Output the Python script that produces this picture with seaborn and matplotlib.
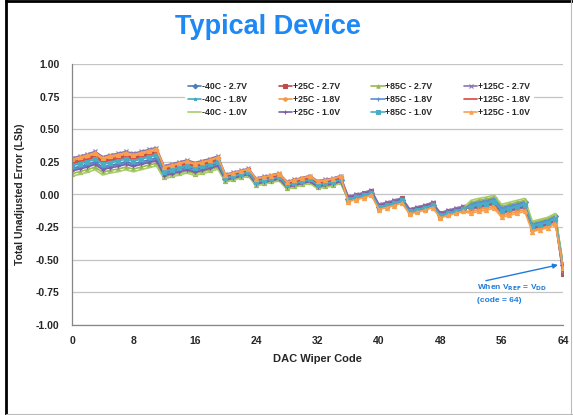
import numpy as np
import matplotlib
matplotlib.use("Agg")
import matplotlib.pyplot as plt
import seaborn as sns
from matplotlib.lines import Line2D

# DAC wiper codes
codes = list(range(65))

# Total unadjusted error (LSb)
m40_27 = [0.20, 0.215, 0.23, 0.25, 0.21, 0.225, 0.235, 0.25, 0.235, 0.25, 0.265, 0.28,
          0.165, 0.18, 0.195, 0.21, 0.19, 0.205, 0.22, 0.24,
          0.12, 0.135, 0.15, 0.165, 0.09, 0.105, 0.115, 0.13, 0.065, 0.08, 0.095, 0.11, 0.07, 0.08, 0.09, 0.11,
          -0.035, -0.02, -0.005, 0.015, -0.095, -0.08, -0.065, -0.045, -0.13, -0.115, -0.10, -0.08, -0.16, -0.14, -0.125, -0.11,
          -0.07, -0.055, -0.045, -0.03, -0.10, -0.085, -0.07, -0.055,
          -0.225, -0.21, -0.195, -0.165, -0.54]
p25_27 = [0.25, 0.265, 0.28, 0.30, 0.26, 0.275, 0.285, 0.30, 0.285, 0.30, 0.315, 0.33,
          0.20, 0.215, 0.23, 0.245, 0.225, 0.24, 0.255, 0.275,
          0.14, 0.155, 0.17, 0.185, 0.11, 0.125, 0.135, 0.15, 0.085, 0.10, 0.115, 0.13, 0.09, 0.10, 0.11, 0.13,
          -0.02, -0.005, 0.01, 0.03, -0.08, -0.065, -0.05, -0.03, -0.115, -0.10, -0.085, -0.065, -0.145, -0.125, -0.11, -0.095,
          -0.11, -0.095, -0.085, -0.07, -0.14, -0.125, -0.11, -0.095,
          -0.26, -0.245, -0.23, -0.20, -0.61]
p85_27 = [0.16, 0.175, 0.19, 0.21, 0.17, 0.185, 0.195, 0.21, 0.195, 0.21, 0.225, 0.24,
          0.135, 0.15, 0.165, 0.18, 0.16, 0.175, 0.19, 0.21,
          0.105, 0.12, 0.135, 0.15, 0.075, 0.09, 0.10, 0.115, 0.05, 0.065, 0.08, 0.095, 0.055, 0.065, 0.075, 0.095,
          -0.045, -0.03, -0.015, 0.005, -0.105, -0.09, -0.075, -0.055, -0.14, -0.125, -0.11, -0.09, -0.17, -0.15, -0.135, -0.12,
          -0.06, -0.045, -0.035, -0.02, -0.09, -0.075, -0.06, -0.045,
          -0.215, -0.20, -0.185, -0.155, -0.53]
p125_27 = [0.28, 0.295, 0.31, 0.33, 0.29, 0.305, 0.315, 0.33, 0.315, 0.33, 0.345, 0.36,
           0.22, 0.235, 0.25, 0.265, 0.245, 0.26, 0.275, 0.295,
           0.155, 0.17, 0.185, 0.20, 0.125, 0.14, 0.15, 0.165, 0.10, 0.115, 0.13, 0.145, 0.105, 0.115, 0.125, 0.145,
           -0.015, 0.0, 0.015, 0.035, -0.075, -0.06, -0.045, -0.025, -0.11, -0.095, -0.08, -0.06, -0.14, -0.12, -0.105, -0.09,
           -0.115, -0.10, -0.09, -0.075, -0.145, -0.13, -0.115, -0.10,
           -0.265, -0.25, -0.235, -0.205, -0.60]
m40_18 = [0.23, 0.245, 0.26, 0.28, 0.24, 0.255, 0.265, 0.28, 0.265, 0.28, 0.295, 0.31,
          0.18, 0.195, 0.21, 0.225, 0.205, 0.22, 0.235, 0.255,
          0.13, 0.145, 0.16, 0.175, 0.10, 0.115, 0.125, 0.14, 0.075, 0.09, 0.105, 0.12, 0.08, 0.09, 0.10, 0.12,
          -0.03, -0.015, 0.0, 0.02, -0.09, -0.075, -0.06, -0.04, -0.125, -0.11, -0.095, -0.075, -0.155, -0.135, -0.12, -0.105,
          -0.085, -0.07, -0.06, -0.045, -0.115, -0.10, -0.085, -0.07,
          -0.235, -0.22, -0.205, -0.175, -0.55]
p25_18 = [0.26, 0.275, 0.29, 0.31, 0.27, 0.285, 0.295, 0.31, 0.295, 0.31, 0.325, 0.34,
          0.205, 0.22, 0.235, 0.25, 0.23, 0.245, 0.26, 0.28,
          0.145, 0.16, 0.175, 0.19, 0.115, 0.13, 0.14, 0.155, 0.09, 0.105, 0.12, 0.135, 0.095, 0.105, 0.115, 0.135,
          -0.05, -0.035, -0.02, 0.0, -0.11, -0.095, -0.08, -0.06, -0.145, -0.13, -0.115, -0.095, -0.175, -0.155, -0.14, -0.125,
          -0.13, -0.115, -0.105, -0.09, -0.16, -0.145, -0.13, -0.115,
          -0.275, -0.26, -0.245, -0.215, -0.58]
p85_18 = [0.19, 0.205, 0.22, 0.24, 0.20, 0.215, 0.225, 0.24, 0.225, 0.24, 0.255, 0.27,
          0.155, 0.17, 0.185, 0.20, 0.18, 0.195, 0.21, 0.23,
          0.115, 0.13, 0.145, 0.16, 0.085, 0.10, 0.11, 0.125, 0.06, 0.075, 0.09, 0.105, 0.065, 0.075, 0.085, 0.105,
          -0.04, -0.025, -0.01, 0.01, -0.10, -0.085, -0.07, -0.05, -0.135, -0.12, -0.105, -0.085, -0.165, -0.145, -0.13, -0.115,
          -0.075, -0.06, -0.05, -0.035, -0.105, -0.09, -0.075, -0.06,
          -0.23, -0.215, -0.20, -0.17, -0.55]
p125_18 = [0.24, 0.255, 0.27, 0.29, 0.25, 0.265, 0.275, 0.29, 0.275, 0.29, 0.305, 0.32,
           0.19, 0.205, 0.22, 0.235, 0.215, 0.23, 0.245, 0.265,
           0.135, 0.15, 0.165, 0.18, 0.105, 0.12, 0.13, 0.145, 0.08, 0.095, 0.11, 0.125, 0.085, 0.095, 0.105, 0.125,
           -0.025, -0.01, 0.005, 0.025, -0.085, -0.07, -0.055, -0.035, -0.12, -0.105, -0.09, -0.07, -0.15, -0.13, -0.115, -0.10,
           -0.105, -0.09, -0.08, -0.065, -0.135, -0.12, -0.105, -0.09,
           -0.255, -0.24, -0.225, -0.195, -0.57]
m40_10 = [0.14, 0.155, 0.17, 0.19, 0.15, 0.165, 0.175, 0.19, 0.175, 0.19, 0.205, 0.22,
          0.12, 0.135, 0.15, 0.165, 0.145, 0.16, 0.175, 0.195,
          0.095, 0.11, 0.125, 0.14, 0.065, 0.08, 0.09, 0.105, 0.04, 0.055, 0.07, 0.085, 0.045, 0.055, 0.065, 0.085,
          -0.03, -0.015, 0.0, 0.02, -0.09, -0.075, -0.06, -0.04, -0.125, -0.11, -0.095, -0.075, -0.155, -0.135, -0.12, -0.105,
          -0.045, -0.03, -0.02, -0.005, -0.075, -0.06, -0.045, -0.03,
          -0.205, -0.19, -0.175, -0.145, -0.55]
p25_10 = [0.18, 0.195, 0.21, 0.23, 0.19, 0.205, 0.215, 0.23, 0.215, 0.23, 0.245, 0.26,
          0.145, 0.16, 0.175, 0.19, 0.17, 0.185, 0.20, 0.22,
          0.11, 0.125, 0.14, 0.155, 0.08, 0.095, 0.105, 0.12, 0.055, 0.07, 0.085, 0.10, 0.06, 0.07, 0.08, 0.10,
          -0.025, -0.01, 0.005, 0.025, -0.085, -0.07, -0.055, -0.035, -0.12, -0.105, -0.09, -0.07, -0.15, -0.13, -0.115, -0.10,
          -0.10, -0.085, -0.075, -0.06, -0.13, -0.115, -0.10, -0.085,
          -0.25, -0.235, -0.22, -0.19, -0.59]
p85_10 = [0.22, 0.235, 0.25, 0.27, 0.23, 0.245, 0.255, 0.27, 0.255, 0.27, 0.285, 0.30,
          0.175, 0.19, 0.205, 0.22, 0.20, 0.215, 0.23, 0.25,
          0.125, 0.14, 0.155, 0.17, 0.095, 0.11, 0.12, 0.135, 0.07, 0.085, 0.10, 0.115, 0.075, 0.085, 0.095, 0.115,
          -0.035, -0.02, -0.005, 0.015, -0.095, -0.08, -0.065, -0.045, -0.13, -0.115, -0.10, -0.08, -0.16, -0.14, -0.125, -0.11,
          -0.095, -0.08, -0.07, -0.055, -0.125, -0.11, -0.095, -0.08,
          -0.245, -0.23, -0.215, -0.185, -0.56]
p125_10 = [0.27, 0.285, 0.30, 0.32, 0.28, 0.295, 0.305, 0.32, 0.305, 0.32, 0.335, 0.35,
           0.21, 0.225, 0.24, 0.255, 0.235, 0.25, 0.265, 0.285,
           0.15, 0.165, 0.18, 0.195, 0.12, 0.135, 0.145, 0.16, 0.095, 0.11, 0.125, 0.14, 0.10, 0.11, 0.12, 0.14,
           -0.055, -0.04, -0.025, -0.005, -0.115, -0.10, -0.085, -0.065, -0.15, -0.135, -0.12, -0.10, -0.18, -0.16, -0.145, -0.13,
           -0.145, -0.13, -0.12, -0.105, -0.175, -0.16, -0.145, -0.13,
           -0.285, -0.27, -0.255, -0.225, -0.56]

labels = ["-40C - 2.7V", "+25C - 2.7V", "+85C - 2.7V", "+125C - 2.7V",
          "-40C - 1.8V", "+25C - 1.8V", "+85C - 1.8V", "+125C - 1.8V",
          "-40C - 1.0V", "+25C - 1.0V", "+85C - 1.0V", "+125C - 1.0V"]
series = [m40_27, p25_27, p85_27, p125_27,
          m40_18, p25_18, p85_18, p125_18,
          m40_10, p25_10, p85_10, p125_10]

colors = ["#4A7EBB", "#BE4B48", "#98B954", "#8C74AE",
          "#46AAC5", "#F79646", "#5B8FD6", "#E0443E",
          "#A8CC6A", "#7D5FA6", "#4BACC6", "#F9A04F"]
markers = ["D", "s", "^", "x", "*", "o", "+", "", "", "+", "s", "^"]

sns.set_style("white")
plt.rcParams["font.family"] = ["Liberation Sans", "DejaVu Sans"]
plt.rcParams["mathtext.default"] = "bf"

fig = plt.figure(figsize=(5.73, 4.15), dpi=100)
ax = fig.add_axes([72 / 573, 1 - 325 / 415, 491 / 573, 261 / 415])

for vals, lab, col, mk in zip(series, labels, colors, markers):
    sns.lineplot(x=codes, y=vals, ax=ax, color=col, marker=mk if mk else None,
                 markersize=3, mec=col, mew=0.8, linewidth=1.2, label=lab)

ax.set_xlim(0, 64)
ax.set_ylim(-1.0, 1.0)
ax.set_xticks(range(0, 65, 8))
ax.set_xticks(range(0, 65, 2), minor=True)
ax.set_yticks(np.arange(-1.0, 1.01, 0.25))
ax.set_yticklabels([f"{v:.2f}" for v in np.arange(-1.0, 1.01, 0.25)])
ax.tick_params(axis="y", length=0, pad=9, labelsize=7.5)
ax.tick_params(axis="x", which="both", direction="out", length=4, color="#868686",
               width=0.8, labelsize=7.5, pad=4)
for lab in ax.get_xticklabels() + ax.get_yticklabels():
    lab.set_fontweight("bold")

ax.grid(axis="y", color="#C4C4C4", linewidth=0.9)
ax.set_axisbelow(True)
for s in ["top", "right"]:
    ax.spines[s].set_visible(False)
for s in ["left", "bottom"]:
    ax.spines[s].set_color("#868686")
    ax.spines[s].set_linewidth(0.9)

ax.set_xlabel("DAC Wiper Code", fontsize=8, fontweight="bold", labelpad=6)
ax.set_ylabel("Total Unadjusted Error (LSb)", fontsize=7.5, fontweight="bold", labelpad=8)

# legend in rows of 4 (matplotlib fills by column, so reorder)
handles, labs = ax.get_legend_handles_labels()
order = [r * 4 + c for c in range(4) for r in range(3)]
leg = ax.legend([handles[i] for i in order], [labs[i] for i in order], ncol=4,
                loc="upper center", bbox_to_anchor=(0.585, 0.962), frameon=True,
                facecolor="white", edgecolor="none", framealpha=1, fancybox=False,
                prop={"size": 6.3, "weight": "bold"}, handlelength=1.5,
                handletextpad=0.1, columnspacing=3.6, labelspacing=0.45,
                markerscale=0.8)

# annotation for the last code
blue = "#1F7BD8"
ax.annotate("", xy=(63.7, -0.535), xytext=(53.6, -0.665),
            arrowprops=dict(arrowstyle="-|>", color=blue, lw=1.0, mutation_scale=7))
ax.text(52.8, -0.715, r"When V$_{REF}$ = V$_{DD}$", color=blue, fontsize=6,
        fontweight="bold", ha="left", va="center")
ax.text(52.8, -0.815, "(code = 64)", color=blue, fontsize=6,
        fontweight="bold", ha="left", va="center")

fig.text(268 / 573, 1 - 27 / 415, "Typical Device", color="#1E88F5", fontsize=19.5,
         fontweight="bold", ha="center", va="center")

# frame around the figure
fig.add_artist(Line2D([6 / 573, 6 / 573], [0, 1], transform=fig.transFigure,
                      color="black", lw=2))
fig.add_artist(Line2D([6 / 573, 1], [1 - 1 / 415, 1 - 1 / 415], transform=fig.transFigure,
                      color="black", lw=2))
fig.add_artist(Line2D([570.5 / 573, 570.5 / 573], [0, 1], transform=fig.transFigure,
                      color="#BBBBBB", lw=0.8))
fig.add_artist(Line2D([6 / 573, 1], [1.5 / 415, 1.5 / 415], transform=fig.transFigure,
                      color="#BBBBBB", lw=0.8))

fig.savefig("out.png", dpi=100)
